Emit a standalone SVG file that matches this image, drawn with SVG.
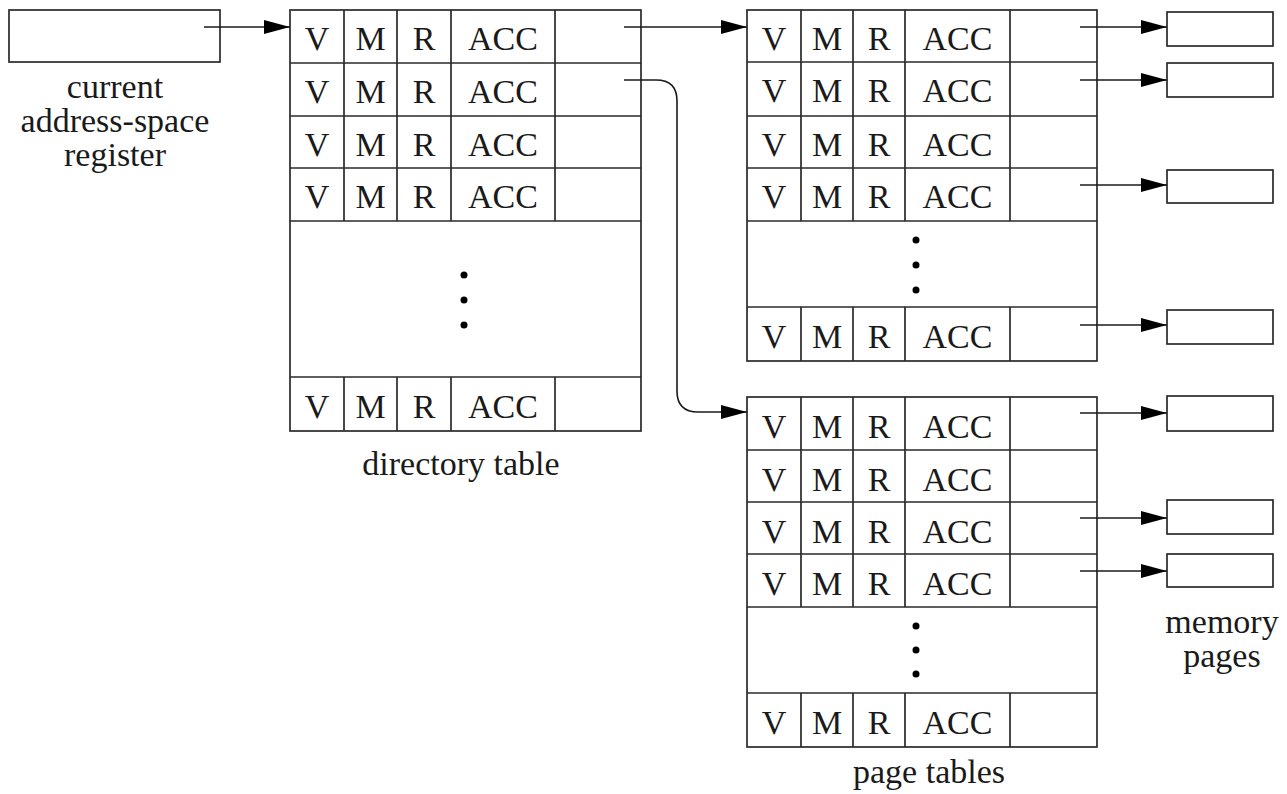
<svg xmlns="http://www.w3.org/2000/svg" width="1287" height="794" viewBox="0 0 1287 794">
  <style>
    .box { fill: #fff; stroke: #2a2a2a; stroke-width: 1.7; }
    .ln { stroke: #2a2a2a; stroke-width: 1.7; fill: none; }
    .t { font-family: "Liberation Serif", "Times New Roman", serif; font-size: 34px; fill: #1a1a1a; text-anchor: middle; }
    .dot { fill: #000; }
    .conn { stroke: #1a1a1a; stroke-width: 1.6; fill: none; marker-end: url(#ah); }
  </style>
  <defs>
    <marker id="ah" markerUnits="userSpaceOnUse" markerWidth="27" markerHeight="16" refX="26" refY="7" orient="auto">
      <path d="M0,0 L26,7 L0,14 Z" fill="#000"/>
    </marker>
  </defs>
  <rect width="1287" height="794" fill="#fff"/>

  <g id="register">
    <rect class="box" x="9" y="10" width="211" height="52"/>
    <text class="t" x="115" y="98">current</text>
    <text class="t" x="115" y="132">address-space</text>
    <text class="t" x="115" y="166">register</text>
  </g>

  <g id="directory-table">
    <rect class="box" x="290" y="10" width="351" height="421"/>
    <path class="ln" d="M290,63H641 M290,116H641 M290,168H641 M290,221H641 M290,377H641"/>
    <path class="ln" d="M344,10V221 M397,10V221 M451,10V221 M555,10V221 M344,377V431 M397,377V431 M451,377V431 M555,377V431"/>
    <g class="t">
      <text x="317" y="50">V</text><text x="370.5" y="50">M</text><text x="424" y="50">R</text><text x="503" y="50">ACC</text>
      <text x="317" y="103">V</text><text x="370.5" y="103">M</text><text x="424" y="103">R</text><text x="503" y="103">ACC</text>
      <text x="317" y="156">V</text><text x="370.5" y="156">M</text><text x="424" y="156">R</text><text x="503" y="156">ACC</text>
      <text x="317" y="208">V</text><text x="370.5" y="208">M</text><text x="424" y="208">R</text><text x="503" y="208">ACC</text>
      <text x="317" y="418">V</text><text x="370.5" y="418">M</text><text x="424" y="418">R</text><text x="503" y="418">ACC</text>
    </g>
    <circle class="dot" cx="464" cy="275" r="3.5"/>
    <circle class="dot" cx="464" cy="300" r="3.5"/>
    <circle class="dot" cx="464" cy="325" r="3.5"/>
    <text class="t" x="461" y="475">directory table</text>
  </g>

  <g id="page-table-1">
    <rect class="box" x="747" y="10" width="350" height="351"/>
    <path class="ln" d="M747,62H1097 M747,116H1097 M747,168H1097 M747,221H1097 M747,307H1097"/>
    <path class="ln" d="M801,10V221 M853,10V221 M905,10V221 M1010,10V221 M801,307V361 M853,307V361 M905,307V361 M1010,307V361"/>
    <g class="t">
      <text x="774" y="50">V</text><text x="827" y="50">M</text><text x="879" y="50">R</text><text x="957.5" y="50">ACC</text>
      <text x="774" y="102">V</text><text x="827" y="102">M</text><text x="879" y="102">R</text><text x="957.5" y="102">ACC</text>
      <text x="774" y="156">V</text><text x="827" y="156">M</text><text x="879" y="156">R</text><text x="957.5" y="156">ACC</text>
      <text x="774" y="208">V</text><text x="827" y="208">M</text><text x="879" y="208">R</text><text x="957.5" y="208">ACC</text>
      <text x="774" y="348">V</text><text x="827" y="348">M</text><text x="879" y="348">R</text><text x="957.5" y="348">ACC</text>
    </g>
    <circle class="dot" cx="916" cy="240" r="3.5"/>
    <circle class="dot" cx="916" cy="265" r="3.5"/>
    <circle class="dot" cx="916" cy="290" r="3.5"/>
  </g>

  <g id="page-table-2">
    <rect class="box" x="747" y="397" width="350" height="350"/>
    <path class="ln" d="M747,450H1097 M747,502H1097 M747,554H1097 M747,607H1097 M747,693H1097"/>
    <path class="ln" d="M801,397V607 M853,397V607 M905,397V607 M1010,397V607 M801,693V747 M853,693V747 M905,693V747 M1010,693V747"/>
    <g class="t">
      <text x="774" y="438">V</text><text x="827" y="438">M</text><text x="879" y="438">R</text><text x="957.5" y="438">ACC</text>
      <text x="774" y="491">V</text><text x="827" y="491">M</text><text x="879" y="491">R</text><text x="957.5" y="491">ACC</text>
      <text x="774" y="543">V</text><text x="827" y="543">M</text><text x="879" y="543">R</text><text x="957.5" y="543">ACC</text>
      <text x="774" y="595">V</text><text x="827" y="595">M</text><text x="879" y="595">R</text><text x="957.5" y="595">ACC</text>
      <text x="774" y="734">V</text><text x="827" y="734">M</text><text x="879" y="734">R</text><text x="957.5" y="734">ACC</text>
    </g>
    <circle class="dot" cx="916" cy="626" r="3.5"/>
    <circle class="dot" cx="916" cy="650" r="3.5"/>
    <circle class="dot" cx="916" cy="674" r="3.5"/>
    <text class="t" x="929" y="783">page tables</text>
  </g>

  <g id="memory-pages">
    <g id="mem-1"><rect class="box" x="1167" y="12" width="106" height="34"/></g>
    <g id="mem-2"><rect class="box" x="1167" y="63" width="106" height="34"/></g>
    <g id="mem-3"><rect class="box" x="1167" y="170" width="106" height="33"/></g>
    <g id="mem-4"><rect class="box" x="1167" y="310" width="106" height="34"/></g>
    <g id="mem-5"><rect class="box" x="1167" y="396" width="106" height="35"/></g>
    <g id="mem-6"><rect class="box" x="1167" y="500" width="106" height="34"/></g>
    <g id="mem-7"><rect class="box" x="1167" y="554" width="106" height="33"/></g>
    <text class="t" x="1222" y="633">memory</text>
    <text class="t" x="1222" y="667">pages</text>
  </g>

  <g id="connectors">
    <path class="conn" d="M204,27H290"/>
    <path class="conn" d="M624,27H747"/>
    <path class="conn" d="M624,80H656 Q677,80 677,101 V391 Q677,412 698,412 H747"/>
    <path class="conn" d="M1080,27H1167"/>
    <path class="conn" d="M1080,80H1167"/>
    <path class="conn" d="M1080,185H1167"/>
    <path class="conn" d="M1080,325H1167"/>
    <path class="conn" d="M1080,413H1167"/>
    <path class="conn" d="M1080,518H1167"/>
    <path class="conn" d="M1080,571H1167"/>
  </g>
</svg>
